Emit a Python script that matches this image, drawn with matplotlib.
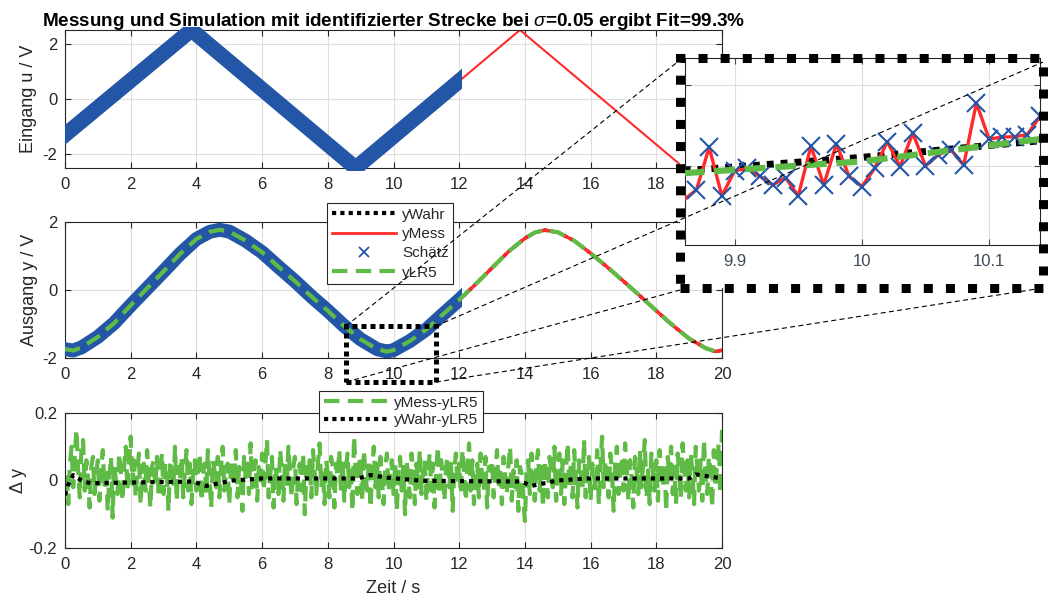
import numpy as np
import matplotlib
matplotlib.use("Agg")
import matplotlib.pyplot as plt
from matplotlib.lines import Line2D
from matplotlib.patches import Rectangle

plt.rcParams['font.family'] = ['Liberation Sans', 'DejaVu Sans']
plt.rcParams['mathtext.fontset'] = 'custom'
plt.rcParams['mathtext.it'] = 'Liberation Sans:italic'
plt.rcParams['mathtext.rm'] = 'Liberation Sans:bold'
plt.rcParams['axes.unicode_minus'] = False

# ---------------- data ----------------
# input u (triangle) breakpoints
t_u = [0, 3.85, 8.85, 13.85, 18.85, 20]
u = [-1.3, 2.5, -2.5, 2.5, -2.5, -1.35]
t_est_end = 12.0

t_y = [0, 0.25, 0.5, 1, 1.5, 2, 2.5, 3, 3.5, 4, 4.4, 4.7, 5, 5.5, 6, 6.5, 7, 7.5,
       8, 8.5, 9, 9.5, 9.8, 10, 10.5, 11, 11.5, 12, 12.5, 13, 13.5, 14, 14.3,
       14.6, 15, 15.5, 16, 16.5, 17, 17.5, 18, 18.5, 19, 19.5, 19.8, 20]
y_lr5 = [-1.74, -1.78, -1.69, -1.38, -0.97, -0.45, 0.05, 0.55, 1.06, 1.50, 1.71,
         1.77, 1.72, 1.45, 1.11, 0.68, 0.26, -0.19, -0.61, -1.06, -1.45, -1.74,
         -1.81, -1.77, -1.50, -1.16, -0.72, -0.29, 0.17, 0.65, 1.13, 1.52, 1.69,
         1.76, 1.70, 1.45, 1.08, 0.68, 0.26, -0.17, -0.61, -1.04, -1.43, -1.71,
         -1.81, -1.77]
y_mess = y_lr5   # measured output follows the model curve at this scale
y_wahr = y_lr5   # true output (hidden under the other curves)

# residual yMess - yLR5 (sampled every 0.05 s)
t_res = np.linspace(0, 20, 401)
res_mess = [
    -0.045, 0.02, -0.07, 0.05, 0.10, -0.02, 0.08, 0.15, 0.03, -0.05, 0.09, 0.12, -0.03, 0.06, 0.01, -0.08, 0.04, 0.07, -0.04, 0.02,
    0.06, -0.06, 0.03, 0.09, -0.02, 0.04, -0.09, 0.01, 0.07, -0.11, 0.05, 0.00, -0.04, 0.08, 0.02, -0.06, 0.04, 0.10, -0.03, 0.05,
    0.13, -0.01, 0.06, -0.05, 0.03, 0.08, -0.07, 0.02, 0.05, -0.03, 0.09, 0.00, -0.08, 0.04, 0.06, -0.02, 0.07, -0.05, 0.01, 0.08,
    -0.04, 0.05, 0.02, -0.09, 0.06, 0.03, -0.02, 0.10, -0.06, 0.04, 0.00, 0.07, -0.05, 0.03, 0.09, -0.03, 0.05, -0.07, 0.02, 0.06,
    -0.03, 0.04, 0.08, -0.06, 0.02, 0.05, -0.04, 0.09, 0.01, -0.08, 0.06, 0.03, -0.02, 0.07, -0.05, 0.04, 0.10, -0.03, 0.02, 0.05,
    -0.07, 0.03, 0.06, -0.01, 0.09, -0.05, 0.04, 0.02, -0.09, 0.07, 0.01, 0.05, -0.04, 0.11, -0.02, 0.03, 0.06, -0.06, 0.04, 0.00,
    0.08, -0.03, 0.05, 0.12, -0.05, 0.02, 0.07, -0.08, 0.04, 0.01, -0.04, 0.09, 0.03, -0.06, 0.06, -0.02, 0.10, 0.02, -0.05, 0.04,
    0.07, -0.07, 0.03, 0.05, -0.03, 0.08, -0.10, 0.04, 0.01, 0.06, -0.05, 0.09, 0.02, -0.04, 0.05, 0.11, -0.02, 0.03, -0.07, 0.06,
    0.02, -0.05, 0.07, 0.04, -0.08, 0.05, 0.01, 0.09, -0.03, 0.06, -0.06, 0.03, 0.08, -0.02, 0.04, -0.09, 0.13, 0.02, -0.04, 0.07,
    0.04, -0.06, 0.09, 0.01, -0.03, 0.06, -0.08, 0.03, 0.10, -0.02, 0.05, -0.05, 0.07, 0.00, -0.07, 0.04, 0.08, -0.03, 0.02, 0.06,
    -0.04, 0.05, -0.09, 0.02, 0.07, -0.03, 0.04, -0.10, 0.06, 0.01, -0.05, 0.08, 0.03, -0.07, 0.05, -0.02, 0.09, -0.04, 0.03, 0.06,
    -0.06, 0.02, 0.08, -0.03, 0.05, -0.08, 0.03, 0.10, -0.04, 0.06, 0.01, -0.06, 0.04, 0.07, -0.02, 0.05, -0.09, 0.03, 0.08, -0.01,
    0.05, -0.04, 0.09, 0.02, -0.06, 0.04, 0.11, -0.03, 0.06, -0.07, 0.02, 0.05, -0.05, 0.08, 0.00, -0.03, 0.07, -0.08, 0.04, 0.03,
    0.06, -0.05, 0.02, 0.09, -0.02, 0.04, -0.07, 0.07, 0.01, -0.04, 0.05, 0.10, -0.06, 0.03, -0.02, 0.06, -0.09, 0.04, 0.02, -0.05,
    -0.12, 0.03, 0.06, -0.04, 0.08, 0.01, -0.06, 0.05, 0.09, -0.03, 0.04, -0.08, 0.06, 0.02, -0.05, 0.07, 0.03, -0.02, 0.10, -0.06,
    0.04, 0.08, -0.04, 0.06, -0.07, 0.03, 0.11, -0.02, 0.05, -0.05, 0.09, 0.01, -0.08, 0.06, 0.03, -0.03, 0.12, -0.05, 0.04, 0.07,
    -0.06, 0.05, 0.02, -0.03, 0.09, -0.07, 0.04, 0.13, -0.02, 0.06, 0.00, -0.05, 0.08, 0.03, -0.09, 0.05, 0.10, -0.04, 0.02, 0.07,
    -0.03, 0.11, 0.04, -0.06, 0.06, 0.01, -0.08, 0.07, 0.03, -0.04, 0.09, -0.02, 0.05, 0.12, -0.05, 0.03, -0.07, 0.08, 0.02, -0.03,
    0.06, -0.06, 0.09, 0.03, -0.02, 0.05, -0.09, 0.07, 0.01, 0.10, -0.04, 0.04, -0.07, 0.08, 0.02, -0.05, 0.11, 0.03, -0.03, 0.06,
    -0.05, 0.08, 0.02, -0.07, 0.10, 0.04, -0.03, 0.06, -0.06, 0.12, 0.01, -0.04, 0.07, 0.03, -0.08, 0.09, -0.02, 0.05, 0.11, -0.04,
    0.15]

# residual yWahr - yLR5
t_res_wahr = [0, 0.1, 0.25, 0.55, 0.8, 3.9, 4.3, 5.1, 6.0, 8.9, 9.3, 9.85,
              10.9, 13.9, 14.2, 15.0, 15.9, 19.0, 19.2, 20]
res_wahr = [-0.043, -0.013, 0.016, -0.003, -0.008, -0.003, -0.016, 0.0, 0.006,
            0.006, 0.016, 0.008, -0.001, -0.003, -0.016, 0.0, 0.006, 0.006,
            0.018, 0.006]

# zoomed detail around t = 10 s
t_zoom = [9.86, 9.87, 9.88, 9.89, 9.90, 9.91, 9.92, 9.93, 9.94, 9.95, 9.96,
          9.97, 9.98, 9.99, 10.00, 10.01, 10.02, 10.03, 10.04, 10.05, 10.06,
          10.07, 10.08, 10.09, 10.10, 10.11, 10.12, 10.13, 10.14]
y_zoom_mess = [-1.884, -1.859, -1.754, -1.874, -1.812, -1.806, -1.826, -1.847,
               -1.829, -1.874, -1.751, -1.847, -1.746, -1.826, -1.851, -1.806,
               -1.740, -1.802, -1.719, -1.800, -1.773, -1.760, -1.798, -1.645,
               -1.734, -1.729, -1.728, -1.723, -1.678]
t_zoom_fit = [9.86, 10.0, 10.14]
y_zoom_lr5 = [-1.818, -1.789, -1.734]
y_zoom_wahr = [-1.812, -1.779, -1.738]

# ---------------- style ----------------
BLUE = '#2356a6'
RED = '#ff2a2a'
GREEN = '#5fbb46'
DARK = '#262626'
W, H = 1048, 601

fig = plt.figure(figsize=(W / 100, H / 100), dpi=100)


def px_rect(l, t, r, b):
    return [l / W, 1 - b / H, (r - l) / W, (b - t) / H]


def style(ax, ylim, yticks, ylabels=None):
    ax.set_xlim(0, 20)
    ax.set_ylim(*ylim)
    ax.set_xticks(range(0, 21, 2))
    ax.set_yticks(yticks)
    if ylabels is not None:
        ax.set_yticklabels(ylabels)
    ax.grid(True, color='#dedede', lw=0.8)
    ax.set_axisbelow(True)
    ax.tick_params(direction='in', length=4, width=0.8, top=True, right=True,
                   labelsize=12, colors=DARK)
    ax.tick_params(axis='x', pad=6.5)
    ax.tick_params(axis='y', pad=5.5)
    for s in ax.spines.values():
        s.set_color(DARK)
        s.set_linewidth(0.8)


ax1 = fig.add_axes(px_rect(65, 30, 722, 168))
ax2 = fig.add_axes(px_rect(65, 222, 722, 358))
ax3 = fig.add_axes(px_rect(65, 413, 722, 548))

# top: input
ax1.plot(t_u, u, color=RED, lw=1.5, zorder=2)
band1, = ax1.plot(t_u, u, color=BLUE, lw=11, solid_joinstyle='miter', zorder=3)
band1.set_clip_path(Rectangle((0, -2.6), t_est_end + 0.1, 5.2, transform=ax1.transData))
style(ax1, (-2.5, 2.5), [-2, 0, 2])
ax1.set_ylabel('Eingang u / V', fontsize=13, color=DARK)
ax1.yaxis.set_label_coords(-0.043, 0.5)
ax1.set_title('Messung und Simulation mit identifizierter Strecke bei $\\sigma$=0.05 ergibt Fit=99.3%',
              fontsize=13.6, fontweight='bold', color='black', pad=3)

# middle: output
ax2.plot(t_y, y_wahr, color='k', ls=(0, (1, 1)), lw=2.5, zorder=1)
ax2.plot(t_y, y_mess, color=RED, lw=2.5, zorder=2)
band2, = ax2.plot(t_y, y_mess, color=BLUE, lw=10, zorder=3)
band2.set_clip_path(Rectangle((0, -2.0), t_est_end + 0.1, 4.0, transform=ax2.transData))
ax2.plot(t_y, y_lr5, color=GREEN, lw=3, dashes=(3.7, 2), zorder=4)
style(ax2, (-2, 2), [-2, 0, 2])
ax2.set_ylabel('Ausgang y / V', fontsize=13, color=DARK)
ax2.yaxis.set_label_coords(-0.041, 0.5)

# bottom: residuals
ax3.plot(t_res, res_mess, color=GREEN, lw=3, dashes=(3.7, 2), zorder=2)
ax3.plot(t_res_wahr, res_wahr, color='k', lw=3, ls=(0, (1, 1.2)), zorder=3)
style(ax3, (-0.2, 0.2), [-0.2, 0, 0.2], ['-0.2', '0', '0.2'])
ax3.set_ylabel('Δ y', fontsize=13, color=DARK)
ax3.yaxis.set_label_coords(-0.058, 0.5)
ax3.set_xlabel('Zeit / s', fontsize=13, color=DARK)
ax3.xaxis.set_label_coords(0.5, -0.237)

# legends
leg_kw = dict(loc='upper left', bbox_transform=fig.transFigure, fontsize=11,
              frameon=True, fancybox=False, edgecolor=DARK, framealpha=1,
              borderpad=0.3, handlelength=4.2, handletextpad=0.4,
              labelspacing=0.35, borderaxespad=0)
h1 = Line2D([], [], color='k', ls=(0, (1, 1)), lw=3)
h2 = Line2D([], [], color=RED, lw=2)
h3 = Line2D([], [], color=BLUE, ls='none', marker='x', ms=7.5, mew=1.3)
h4 = Line2D([], [], color=GREEN, lw=3, dashes=(3.7, 2))
leg1 = fig.legend([h1, h2, h3, h4], ['yWahr', 'yMess', 'Schätz', 'yLR5'],
                  bbox_to_anchor=(327 / W, 1 - 203 / H), **leg_kw)
leg1.get_frame().set_linewidth(0.8)
for tx in leg1.get_texts():
    tx.set_color(DARK)
g1 = Line2D([], [], color=GREEN, lw=3, dashes=(3.7, 2))
g2 = Line2D([], [], color='k', ls=(0, (1, 1)), lw=3)
leg_kw['labelspacing'] = 0.25
leg2 = fig.legend([g1, g2], ['yMess-yLR5', 'yWahr-yLR5'],
                  bbox_to_anchor=(319 / W, 1 - 391 / H), **leg_kw)
leg2.get_frame().set_linewidth(0.8)
for tx in leg2.get_texts():
    tx.set_color(DARK)

# zoom rectangle in middle plot
fig.add_artist(Rectangle((346 / W, 1 - 382 / H), 90 / W, 56 / H,
                         transform=fig.transFigure, fill=False, ec='k',
                         lw=3.6, ls=(0, (1, 0.8)), zorder=6))

# inset frame + inset axes
fig.add_artist(Rectangle((680 / W, 1 - 288 / H), 363 / W, 230 / H,
                         transform=fig.transFigure, fc='white', ec='none', zorder=4))
axi = fig.add_axes(px_rect(685, 58, 1040, 245), zorder=5)
axi.set_facecolor('white')
axi.plot(t_zoom_fit, y_zoom_wahr, color='k', ls=(0, (1, 1)), lw=5, zorder=2)
axi.plot(t_zoom, y_zoom_mess, color=RED, lw=2.4, zorder=3)
axi.plot(t_zoom[1:], y_zoom_mess[1:], ls='none', marker='x', color=BLUE,
         ms=13, mew=1.5, zorder=4)
axi.plot(t_zoom_fit, y_zoom_lr5, color=GREEN, lw=4.5, dashes=(3.3, 1.6), zorder=5)
axi.set_xlim(9.861, 10.140)
axi.set_ylim(-1.995, -1.534)
axi.set_xticks([9.9, 10.0, 10.1])
axi.set_xticklabels(['9.9', '10', '10.1'])
axi.set_yticks([-1.8, -1.6])
axi.set_yticklabels([])
axi.grid(True, color='#dedede', lw=0.8)
axi.set_axisbelow(True)
axi.tick_params(direction='in', length=4, width=0.8, top=True, right=True,
                labelsize=12, colors='#3e4a58', pad=6.5)
for s in axi.spines.values():
    s.set_color(DARK)
    s.set_linewidth(0.8)
fig.add_artist(Rectangle((680 / W, 1 - 288 / H), 363 / W, 230 / H,
                         transform=fig.transFigure, fill=False, ec='k',
                         lw=6.5, ls=(0, (1, 1.45)), zorder=5.5))

# connector lines
for (x0, y0, x1, y1) in [(346, 326, 680, 60), (436, 326, 1043, 62),
                         (346, 382, 680, 290), (436, 382, 1043, 288)]:
    fig.add_artist(Line2D([x0 / W, x1 / W], [1 - y0 / H, 1 - y1 / H],
                          transform=fig.transFigure, color='k', lw=0.8,
                          ls=(0, (4.5, 3)), zorder=6))

fig.savefig('out.png', dpi=100)
